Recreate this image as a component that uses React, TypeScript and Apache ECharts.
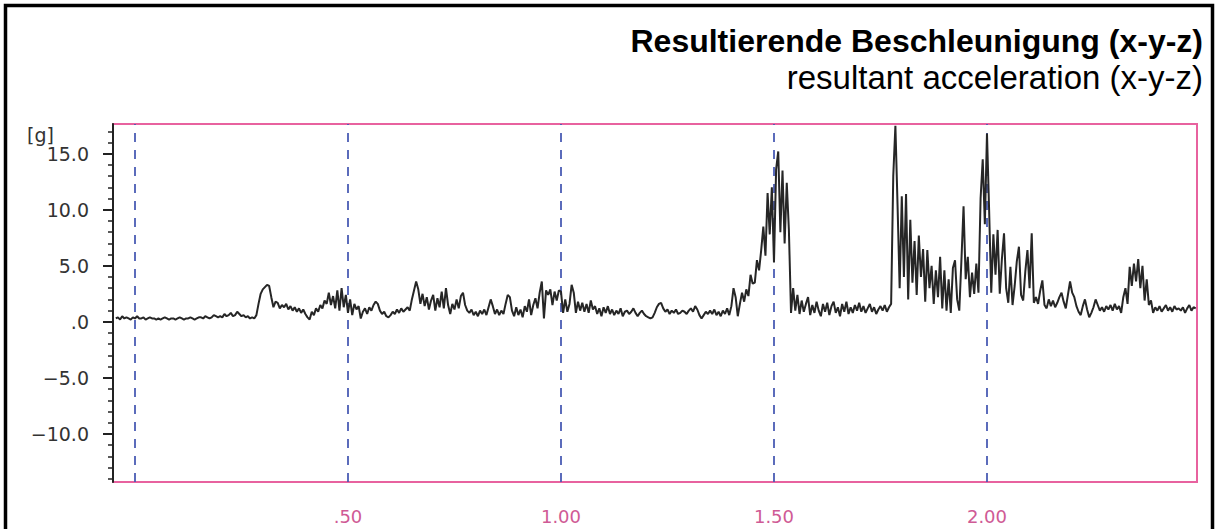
import React, { useEffect, useRef } from 'react';
import * as echarts from 'echarts';

// sampling grid of the recorded signal (seconds)
const SAMPLE_START = -0.045;
const SAMPLE_STEP = 0.005;

// resultant acceleration [g]
const ACCEL: number[] = [
  0.3,0.4,0.2,0.5,0.3,0.4,0.3,0.2,0.4,0.3,0.5,0.3,0.3,0.4,0.2,0.3,0.4,0.3,0.3,0.2,
  0.3,0.2,0.3,0.4,0.3,0.2,0.3,0.3,0.2,0.3,0.4,0.3,0.2,0.3,0.3,0.4,0.3,0.2,0.3,0.4,
  0.4,0.3,0.5,0.4,0.3,0.4,0.6,0.5,0.4,0.5,0.4,0.7,0.5,0.6,0.8,0.5,0.6,0.9,0.7,0.5,
  0.6,0.4,0.5,0.3,0.4,0.3,0.6,1.6,2.5,2.9,3.1,3.3,3.2,2.2,1.3,1.8,1.7,1.2,1.5,1.3,
  1.6,1.1,1.4,1.0,1.3,0.9,1.2,0.8,1.1,0.7,0.4,0.2,0.9,0.6,1.2,0.9,1.5,1.2,1.9,1.6,
  2.6,1.5,2.3,1.2,2.8,1.0,3.0,1.3,2.4,0.8,2.0,0.6,1.6,1.1,1.4,0.3,0.9,1.2,0.7,1.3,
  1.0,1.5,1.8,1.6,1.0,0.7,0.9,0.5,0.4,0.6,0.9,0.7,1.1,0.8,1.2,0.9,1.1,1.3,1.0,2.0,
  2.8,3.6,2.9,1.6,2.5,1.4,2.2,1.1,1.9,2.4,1.0,2.1,1.3,2.7,1.2,3.0,1.5,0.7,1.6,1.1,
  2.0,1.2,2.3,2.6,1.5,1.0,0.8,1.1,0.6,0.9,0.5,1.0,0.7,1.1,0.6,1.3,2.0,1.4,0.7,1.1,
  0.6,1.0,0.7,1.6,2.4,2.2,1.0,0.5,1.3,0.6,1.1,0.4,1.4,0.9,2.0,0.6,1.5,2.1,1.2,2.6,
  3.6,0.3,2.8,2.4,2.9,1.5,2.7,1.9,2.8,2.7,0.8,2.0,0.9,1.6,3.3,2.6,0.8,1.8,1.0,1.7,
  0.9,1.6,0.8,1.9,1.1,1.4,0.7,1.2,0.5,1.3,0.8,1.4,0.7,1.1,0.6,1.0,0.7,1.2,0.5,0.9,
  1.0,0.7,0.9,1.2,0.8,0.5,0.8,1.0,0.7,0.5,0.4,0.3,0.4,0.8,1.3,1.6,1.7,1.2,0.9,1.1,
  0.7,1.0,0.8,1.1,0.7,0.8,1.0,0.9,0.7,1.0,1.2,0.9,1.4,1.1,0.6,0.3,0.6,0.9,0.7,1.0,
  0.7,1.1,0.6,0.9,0.5,1.0,0.7,1.2,0.6,1.4,3.0,2.2,0.5,1.6,2.6,1.8,2.9,2.3,4.2,3.4,
  3.5,5.5,4.6,6.4,8.5,5.9,11.5,7.8,12.0,5.3,13.6,15.2,8.0,13.5,7.0,12.4,8.2,0.8,3.0,1.0,
  2.4,0.7,1.9,0.9,1.6,2.2,0.6,1.5,0.8,1.8,1.0,0.5,1.6,0.9,1.7,0.6,1.4,1.8,0.8,1.3,
  0.5,1.6,0.9,1.8,0.7,1.3,0.8,1.5,1.0,1.7,0.9,1.4,0.8,1.2,1.6,0.9,1.3,0.7,1.1,1.4,
  1.0,1.5,0.9,1.3,1.6,13.0,17.5,10.5,3.0,11.2,4.0,11.4,2.0,9.1,3.5,7.2,2.4,7.7,4.0,6.5,
  1.8,6.4,3.0,5.0,1.6,4.6,2.2,5.8,1.2,4.6,1.0,3.8,0.8,4.8,5.5,2.0,1.0,5.5,10.3,3.8,
  5.8,2.2,4.4,2.5,5.2,2.6,11.0,14.5,8.7,16.8,10.0,2.6,7.8,4.2,8.2,2.5,5.6,7.9,3.0,1.7,
  4.9,1.5,3.2,5.4,6.7,2.4,1.9,4.5,6.4,3.0,7.9,1.7,2.2,1.6,2.8,3.7,1.5,1.2,2.0,1.4,
  1.9,1.3,1.7,2.2,2.6,1.8,1.2,2.4,3.6,2.6,2.2,1.4,0.9,0.6,1.4,2.0,1.1,0.4,0.8,1.3,
  2.0,1.5,1.0,1.3,0.9,1.4,1.1,1.5,1.0,1.6,1.1,1.4,0.8,2.2,3.0,1.6,4.9,3.2,5.2,3.6,
  5.6,3.0,5.0,1.9,3.8,1.5,1.9,0.8,1.3,1.0,1.4,0.9,1.2,1.5,1.0,1.3,0.9,1.4,1.1,1.2,
  1.0,1.3,0.8,1.2,1.5,1.0,1.3,1.2,
];

const X_MIN = -0.0516;
const X_MAX = 2.493;
const Y_MIN = -14.29;
const Y_MAX = 17.65;

const X_MARKERS = [0, 0.5, 1.0, 1.5, 2.0];
const X_LABEL_VALUES = [0.5, 1.0, 1.5, 2.0];
const X_LABELS = ['.50', '1.00', '1.50', '2.00'];

const Y_MAJOR = [-10, -5, 0, 5, 10, 15];
const Y_LABELS = ['\u221210.0', '\u22125.0', '.0', '5.0', '10.0', '15.0'];
const Y_MINOR = [-14, -13, -12, -11, -10, -9, -8, -7, -6, -5, -4, -3, -2, -1, 0, 1, 2, 3, 4, 5, 6, 7, 8, 9, 10, 11, 12, 13, 14, 15, 16, 17];

const TITLE = 'Resultierende Beschleunigung (x-y-z)';
const SUBTITLE = 'resultant acceleration (x-y-z)';
const UNIT = '[g]';

const PINK = '#e8629f';
const PINK_TEXT = '#cf5a95';
const BLUE = '#4a5cb4';

function lookup(values: number[], labels: string[], v: number) {
  const i = values.findIndex((x) => Math.abs(x - v) < 1e-6);
  return i >= 0 ? labels[i] : '';
}

export default function App() {
  const ref = useRef<HTMLDivElement>(null);

  useEffect(() => {
    if (!ref.current) return;
    const chart = echarts.init(ref.current, undefined, { renderer: 'svg' });
    const data = ACCEL.map((v, i) => [SAMPLE_START + i * SAMPLE_STEP, v]);

    chart.setOption({
      animation: false,
      backgroundColor: '#ffffff',
      grid: {
        left: 113,
        top: 124,
        width: 1084,
        height: 358,
        show: true,
        borderColor: PINK,
        borderWidth: 2,
        backgroundColor: 'transparent',
      },
      xAxis: {
        type: 'value',
        min: X_MIN,
        max: X_MAX,
        axisLine: { show: false, onZero: false },
        axisTick: { show: false },
        splitLine: { show: false },
        axisLabel: {
          customValues: X_LABEL_VALUES,
          formatter: (v: number) => lookup(X_LABEL_VALUES, X_LABELS, v),
          color: PINK_TEXT,
          fontFamily: 'DejaVu Sans',
          fontSize: 18,
          margin: 25,
        },
      },
      yAxis: [
        {
          type: 'value',
          min: Y_MIN,
          max: Y_MAX,
          position: 'left',
          axisLine: { show: true, onZero: false, lineStyle: { color: '#222', width: 2 } },
          axisTick: { show: true, customValues: Y_MAJOR, length: 10, lineStyle: { color: '#222', width: 2 } },
          splitLine: { show: false },
          axisLabel: {
            customValues: Y_MAJOR,
            formatter: (v: number) => lookup(Y_MAJOR, Y_LABELS, v),
            color: '#333',
            fontFamily: 'DejaVu Sans',
            fontSize: 19,
            margin: 24,
          },
        },
        {
          type: 'value',
          min: Y_MIN,
          max: Y_MAX,
          position: 'left',
          offset: 0,
          axisLine: { show: false, onZero: false },
          axisTick: { show: true, customValues: Y_MINOR, length: 5, lineStyle: { color: '#222', width: 1.5 } },
          axisLabel: { show: false },
          splitLine: { show: false },
        },
      ],
      graphic: [
        {
          type: 'polyline',
          shape: { points: [[5.5, 540], [5.5, 5.5], [1212.5, 5.5], [1212.5, 540]] },
          style: { stroke: '#000', lineWidth: 3.5, fill: 'none' },
        },
        {
          type: 'text',
          x: 1203,
          y: 41,
          style: {
            text: TITLE,
            fill: '#000',
            font: 'bold 32px "Liberation Sans", Arial, sans-serif',
            textAlign: 'right',
            textVerticalAlign: 'middle',
          },
        },
        {
          type: 'text',
          x: 1203,
          y: 77,
          style: {
            text: SUBTITLE,
            fill: '#000',
            font: '33px "Liberation Sans", Arial, sans-serif',
            textAlign: 'right',
            textVerticalAlign: 'middle',
          },
        },
        {
          type: 'text',
          x: 27,
          y: 135,
          style: {
            text: UNIT,
            fill: '#333',
            font: '19px "DejaVu Sans", sans-serif',
            textAlign: 'left',
            textVerticalAlign: 'middle',
          },
        },
      ],
      series: [
        {
          type: 'line',
          data,
          yAxisIndex: 0,
          showSymbol: false,
          symbol: 'none',
          lineStyle: { color: '#262626', width: 2 },
          z: 3,
          markLine: {
            silent: true,
            symbol: ['none', 'none'],
            label: { show: false },
            lineStyle: { color: BLUE, width: 1.8, type: [9, 8] },
            data: X_MARKERS.map((x) => ({ xAxis: x })),
            z: 2,
          },
        },
      ],
    });

    return () => chart.dispose();
  }, []);

  return (
    <div
      ref={ref}
      style={{ position: 'absolute', left: 0, top: 0, width: 1216, height: 529, background: '#fff' }}
    />
  );
}
